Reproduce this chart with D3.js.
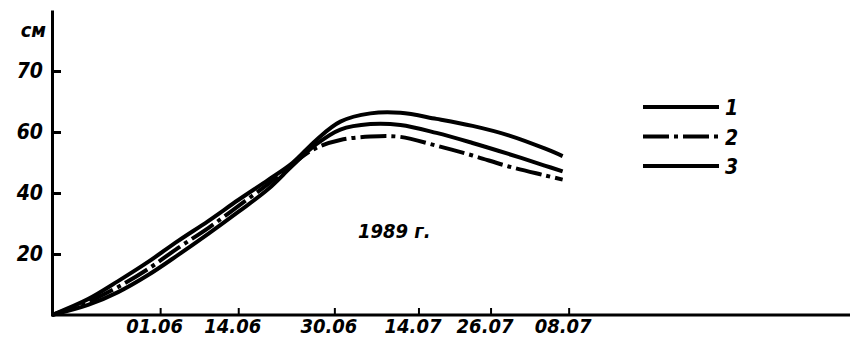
<!DOCTYPE html>
<html>
<head>
<meta charset="utf-8">
<script src="https://cdn.jsdelivr.net/npm/d3@7"></script>
<style>
  body { margin: 0; background: #fff; }
  svg text { font-family: "DejaVu Sans Condensed", "DejaVu Sans", sans-serif; font-style: italic; font-weight: bold; fill: #000; }
</style>
</head>
<body>
<svg class="mainsvg" width="850" height="346"></svg>
<script>
// dates of the readings (1989)
var dates = ["1989-05-14", "1989-05-20", "1989-05-25", "1989-05-30", "1989-06-04", "1989-06-09",
             "1989-06-14", "1989-06-19", "1989-06-23", "1989-06-27", "1989-07-01", "1989-07-06",
             "1989-07-11", "1989-07-17", "1989-07-23", "1989-07-29", "1989-08-04", "1989-08-07"];

// plant height, cm
var series1 = [0, 5.2, 11.1, 17.4, 24.3, 30.8, 37.7, 44.3, 49.8, 57.4, 63.4, 66.1, 66.3, 64.3, 62.0, 58.9, 54.6, 52.1];
var series2 = [0, 4.3, 9.2, 15.1, 22.0, 28.5, 35.7, 43.0, 49.5, 54.8, 57.4, 58.5, 58.4, 55.5, 52.3, 48.7, 45.8, 44.4];
var series3 = [0, 3.3, 7.5, 13.1, 19.7, 26.6, 33.8, 41.3, 48.9, 56.0, 60.8, 62.6, 62.3, 59.7, 56.4, 52.8, 49.0, 47.1];
var seriesNames = ["1", "2", "3"];

// axis ticks (labels as printed)
var xTickDates = ["1989-06-01", "1989-06-14", "1989-06-30", "1989-07-14", "1989-07-26", "1989-08-08"];
var xTickLabels = ["01.06", "14.06", "30.06", "14.07", "26.07", "08.07"];
var yTicks = [20, 40, 60, 80];
var yTickLabels = ["20", "40", "60", "70"];

var width = 850;
var ink = "#000";
var parse = d3.utcParse("%Y-%m-%d");

var svg = d3.select(".mainsvg");

var x = d3.scaleUtc()
    .domain([parse("1989-05-14"), parse("1989-09-23")])
    .range([52, 845]);

var y = d3.scaleLinear()
    .domain([0, 100])
    .range([315, 10]);

// x axis, ticks pointing up
var xAxis = svg.append("g")
    .attr("transform", "translate(0," + y(0) + ")")
    .call(d3.axisBottom(x)
        .tickValues(xTickDates.map(parse))
        .tickFormat(function (d, i) { return xTickLabels[i]; })
        .tickSizeInner(-7)
        .tickSizeOuter(0)
        .tickPadding(4));
xAxis.select(".domain").remove();
xAxis.append("line")
    .attr("x1", x.range()[0] - 1).attr("x2", width)
    .attr("stroke", ink).attr("stroke-width", 3);
xAxis.selectAll(".tick line").attr("stroke", ink).attr("stroke-width", 2);
xAxis.selectAll(".tick text")
    .attr("dx", -6)
    .style("font-size", "20px");

// y axis, ticks pointing right
var yAxis = svg.append("g")
    .attr("transform", "translate(" + x.range()[0] + ",0)")
    .call(d3.axisLeft(y)
        .tickValues(yTicks)
        .tickFormat(function (d, i) { return yTickLabels[i]; })
        .tickSizeInner(-9)
        .tickSizeOuter(0)
        .tickPadding(9));
yAxis.select(".domain").attr("stroke", ink).attr("stroke-width", 3);
yAxis.selectAll(".tick line").attr("stroke", ink).attr("stroke-width", 3);
yAxis.selectAll(".tick text").style("font-size", "21px");

svg.append("text")
    .attr("x", 46).attr("y", 37)
    .attr("text-anchor", "end")
    .style("font-size", "20px")
    .text("см");

// curves
var allSeries = [series1, series2, series3];
var dashes = [null, "26,5,4,5", null];

var line = d3.line()
    .x(function (d) { return x(d.date); })
    .y(function (d) { return y(d.value); })
    .curve(d3.curveCatmullRom.alpha(0.5));

allSeries.forEach(function (values, k) {
    var pts = values.map(function (v, i) { return { date: parse(dates[i]), value: v }; });
    svg.append("path")
        .datum(pts)
        .attr("fill", "none")
        .attr("stroke", ink)
        .attr("stroke-width", 4)
        .attr("stroke-dasharray", dashes[k])
        .attr("d", line);
});

// legend
var legend = svg.selectAll(".legend")
    .data(seriesNames)
    .enter().append("g")
    .attr("class", "legend")
    .attr("transform", function (d, i) { return "translate(643," + (107 + i * 29.5) + ")"; });

legend.append("line")
    .attr("x1", 0).attr("x2", 76)
    .attr("stroke", ink)
    .attr("stroke-width", 4)
    .attr("stroke-dasharray", function (d, i) { return dashes[i]; });

legend.append("text")
    .attr("x", 82).attr("y", 8)
    .style("font-size", "21px")
    .text(function (d) { return d; });

svg.append("text")
    .attr("x", 358).attr("y", 238)
    .style("font-size", "20px")
    .text("1989 г.");
</script>
</body>
</html>
